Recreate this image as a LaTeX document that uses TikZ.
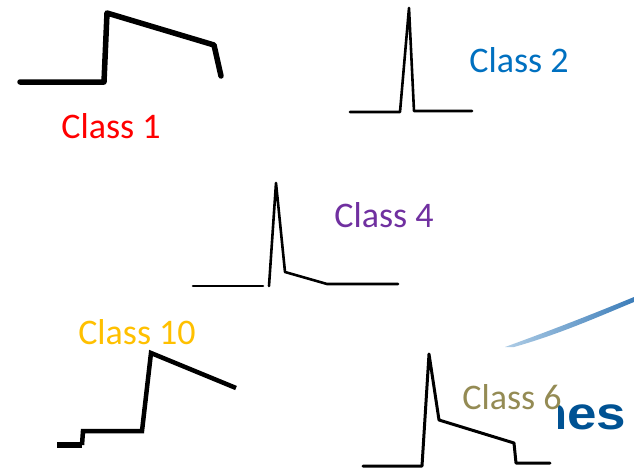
\documentclass[tikz,border=0pt]{standalone}
\usepackage{fontspec}
\setmainfont{Carlito}
\newfontfamily\logofont{Liberation Sans}
\definecolor{cOne}{RGB}{255,0,0}
\definecolor{cTwo}{RGB}{0,112,192}
\definecolor{cFour}{RGB}{112,48,160}
\definecolor{cTen}{RGB}{255,192,0}
\definecolor{cSix}{RGB}{148,139,84}
\definecolor{logoblue}{RGB}{0,82,147}
\definecolor{swooshA}{RGB}{175,205,230}
\definecolor{swooshB}{RGB}{60,125,185}
\begin{document}
\begin{tikzpicture}[x=1pt,y=-1pt,
  lbl/.style={inner sep=0pt,font=\fontsize{36}{40}\selectfont},
  pulse/.style={draw=black,line join=round,line cap=round}]
\useasboundingbox (0,0) rectangle (634,469);
% logo fragment
\shade[left color=swooshA,right color=swooshB] (505,347) .. controls (560,327) and (600,311) .. (634,297) -- (634,302) .. controls (600,316) and (560,334) .. (514,347) -- cycle;
\begin{scope}
\clip (558,380) rectangle (634,440);
\node[anchor=base west,inner sep=0pt,xscale=1.15,text=logoblue,font=\logofont\bfseries\fontsize{46}{50}\selectfont] (logo) at (535,429) {nes};
\end{scope}
% Class 1
\coordinate (a1) at (20,82);
\coordinate (a2) at (104,82);
\coordinate (a3) at (107,13);
\coordinate (a4) at (214,45);
\coordinate (a5) at (221,76);
\draw[pulse,line width=5.5pt] (a1) -- (a2) -- (a3) -- (a4) -- (a5);
\node[lbl,text=cOne] (t1) at (111,126) {Class 1};
% Class 2
\coordinate (b1) at (350,112);
\coordinate (b2) at (400,112);
\coordinate (b3) at (409,8);
\coordinate (b4) at (414,111);
\coordinate (b5) at (472,111);
\draw[pulse,line width=2.6pt] (b1) -- (b2) -- (b3) -- (b4) -- (b5);
\node[lbl,text=cTwo] (t2) at (519,60) {Class 2};
% Class 4
\coordinate (c1) at (193,286);
\coordinate (c2) at (263,286);
\coordinate (c3) at (269,286);
\coordinate (c4) at (276,183);
\coordinate (c5) at (285,272);
\coordinate (c6) at (327,284);
\coordinate (c7) at (398,284);
\draw[pulse,line width=2.6pt] (c1) -- (c2);
\draw[pulse,line width=2.6pt] (c3) -- (c4) -- (c5) -- (c6) -- (c7);
\node[lbl,text=cFour] (t4) at (384,215) {Class 4};
% Class 10
\coordinate (d1) at (57,445);
\coordinate (d2) at (82,445);
\coordinate (d3) at (83,431);
\coordinate (d4) at (142,431);
\coordinate (d5) at (151,353);
\coordinate (d6) at (236,388);
\draw[draw=black,line width=6pt] (d1) -- (d2);
\draw[pulse,line width=4.5pt,line cap=butt,line join=miter] (d2) -- (d3) -- (d4) -- (d5) -- (d6);
\node[lbl,text=cTen] (t10) at (137,332) {Class 10};
% Class 6
\coordinate (e1) at (363,466);
\coordinate (e2) at (422,466);
\coordinate (e3) at (429,354);
\coordinate (e4) at (439,420);
\coordinate (e5) at (514,443);
\coordinate (e6) at (516,463);
\coordinate (e7) at (550,463);
\draw[pulse,line width=3pt] (e1) -- (e2) -- (e3) -- (e4) -- (e5) -- (e6) -- (e7);
\node[lbl,text=cSix] (t6) at (512,397) {Class 6};
\end{tikzpicture}
\end{document}
